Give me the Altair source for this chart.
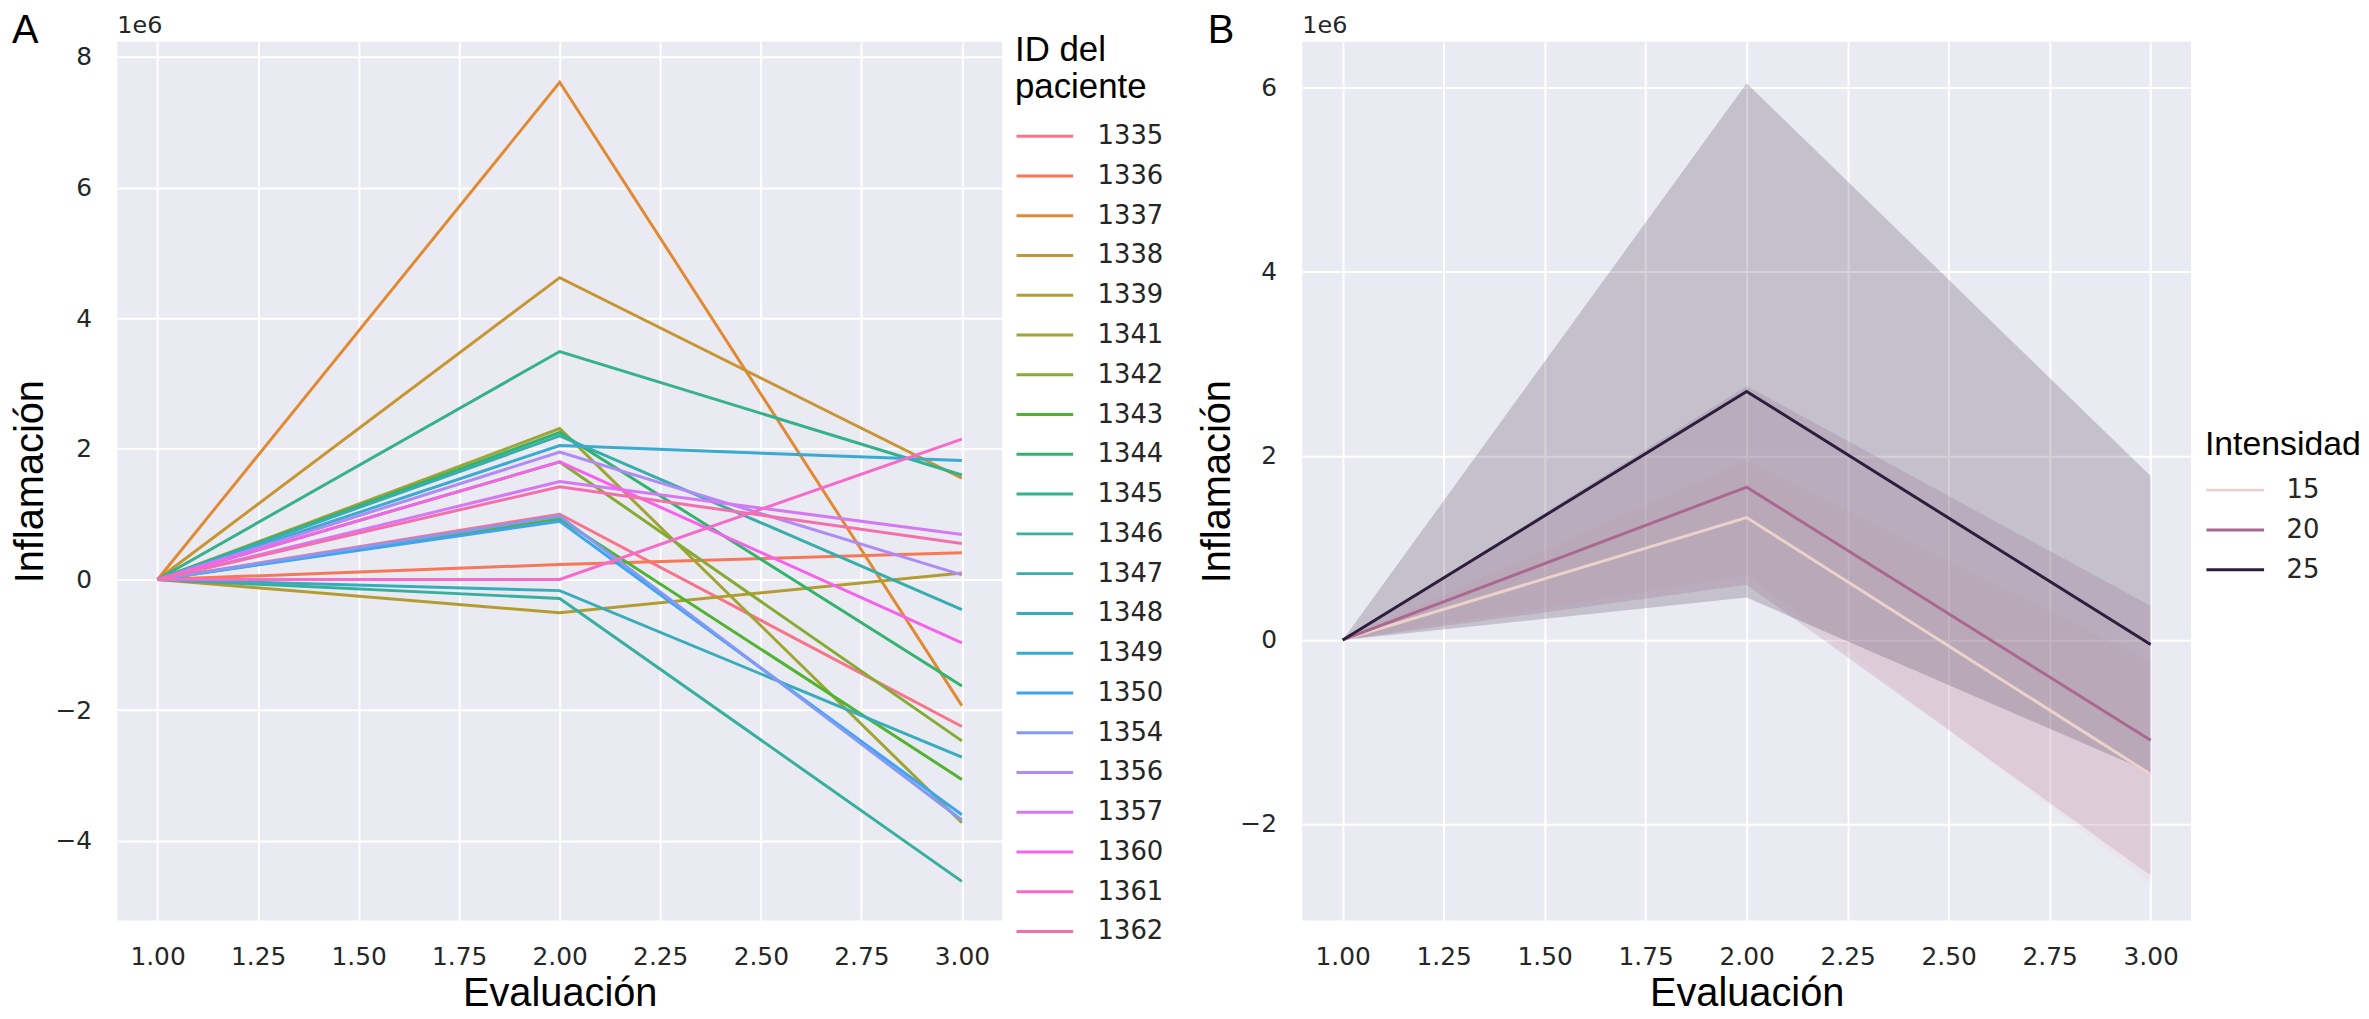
import math
import altair as alt
import pandas as pd

# ---------------- data (Inflamación in units of 1e6) ----------------
patients = ["1335", "1336", "1337", "1338", "1339", "1341", "1342", "1343", "1344", "1345",
            "1346", "1347", "1348", "1349", "1350", "1354", "1356", "1357", "1360", "1361", "1362"]
evaluacion = [1.0, 2.0, 3.0]
inflam_eval1 = [0.0, 0.0, 0.0, 0.0, 0.0, 0.0, 0.0, 0.0, 0.0, 0.0,
                0.0, 0.0, 0.0, 0.0, 0.0, 0.0, 0.0, 0.0, 0.0, 0.0, 0.0]
inflam_eval2 = [1.00, 0.23, 7.61, 4.62, -0.51, 2.31, 1.80, 0.93, 2.25, 3.49,
                -0.29, 2.20, -0.17, 2.05, 0.89, 0.97, 1.95, 1.50, 1.80, 0.00, 1.42]
inflam_eval3 = [-2.25, 0.41, -1.93, 1.55, 0.10, -3.72, -2.47, -3.06, -1.63, 1.60,
                -4.62, -0.46, -2.72, 1.82, -3.60, -3.68, 0.07, 0.69, -0.97, 2.15, 0.55]

intensidades = ["15", "20", "25"]
media = {"15": [0.0, 1.33, -1.46], "20": [0.0, 1.66, -1.09], "25": [0.0, 2.70, -0.05]}
ic_bajo = {"15": [0.0, 0.70, -2.64], "20": [0.0, 0.60, -2.56], "25": [0.0, 0.46, -1.44]}
ic_alto = {"15": [0.0, 1.95, -0.24], "20": [0.0, 2.76, 0.37], "25": [0.0, 6.05, 1.78]}

ticks_x = [1.0, 1.25, 1.5, 1.75, 2.0, 2.25, 2.5, 2.75, 3.0]
ticks_yA = [-4, -2, 0, 2, 4, 6, 8]
ticks_yB = [-2, 0, 2, 4, 6]

# ---------------- seaborn husl palette ----------------
_m = [[3.2406, -1.5372, -0.4986], [-0.9689, 1.8758, 0.0415], [0.0557, -0.2040, 1.0570]]
_refU, _refV = 0.19784, 0.46834


def _max_chroma(L, H):
    hrad = math.radians(H)
    sinH, cosH = math.sin(hrad), math.cos(hrad)
    sub1 = math.pow(L + 16, 3.0) / 1560896.0
    sub2 = sub1 if sub1 > 0.008856 else (L / 903.3)
    result = float("inf")
    for m1, m2, m3 in _m:
        top = (0.99915 * m1 + 1.05122 * m2 + 1.14460 * m3) * sub2
        rbottom = 0.86330 * m3 - 0.17266 * m2
        lbottom = 0.12949 * m3 - 0.38848 * m1
        bottom = (rbottom * sinH + lbottom * cosH) * sub2
        for t in (0.0, 1.0):
            C = L * (top - 1.05122 * t) / (bottom + 0.17266 * sinH * t)
            if 0.0 < C < result:
                result = C
    return result


def _husl_to_hex(H, S, L):
    C = _max_chroma(L, H) / 100.0 * S
    hr = math.radians(H)
    U, V = math.cos(hr) * C, math.sin(hr) * C
    t = (L + 16.0) / 116.0
    Y = t ** 3 if t ** 3 > 0.008856 else (116.0 * t - 16.0) / 903.3
    vu = U / (13.0 * L) + _refU
    vv = V / (13.0 * L) + _refV
    X = 0.0 - (9.0 * Y * vu) / ((vu - 4.0) * vv - vu * vv)
    Z = (9.0 * Y - (15.0 * vv * Y) - (vv * X)) / (3.0 * vv)
    out = []
    for row in _m:
        c = row[0] * X + row[1] * Y + row[2] * Z
        c = 12.92 * c if c <= 0.0031308 else 1.055 * math.pow(c, 1 / 2.4) - 0.055
        c = min(max(c, 0.0), 1.0)
        out.append(int(round(c * 255)))
    return "#%02x%02x%02x" % tuple(out)


n = len(patients)
colorsA = [_husl_to_hex(((k / n + 0.01) % 1) * 359, 0.9 * 99, 0.65 * 100) for k in range(n)]
colorsB = ["#edd1cb", "#aa678f", "#2d1e3e"]

# ---------------- tables ----------------
rowsA = []
for i, p in enumerate(patients):
    for j, serie in enumerate([inflam_eval1, inflam_eval2, inflam_eval3]):
        rowsA.append({"paciente": p, "Evaluación": evaluacion[j], "Inflamación": serie[i]})
dfA = pd.DataFrame(rowsA)

rowsB = []
for lvl in intensidades:
    for j in range(3):
        rowsB.append({"Intensidad": lvl, "Evaluación": evaluacion[j], "Inflamación": media[lvl][j],
                      "lo": ic_bajo[lvl][j], "hi": ic_alto[lvl][j]})
dfB = pd.DataFrame(rowsB)

TITLE_FONT = "Liberation Sans"
TICK_FONT = "DejaVu Sans"

x_axis = alt.Axis(values=ticks_x, format=".2f", title="Evaluación", labelPadding=24, titlePadding=4)


def y_axis(vals, tpad):
    return alt.Axis(values=vals, format="d", title="Inflamación", labelPadding=26, titlePadding=tpad)


def label(txt, x, y, size, font, color):
    return alt.Chart(pd.DataFrame({"t": [txt]})).mark_text(
        font=font, fontSize=size, align="left", baseline="alphabetic", color=color
    ).encode(x=alt.value(x), y=alt.value(y), text="t:N")


xscale = alt.Scale(domain=[0.9, 3.1], nice=False, zero=False)

# ---------------- panel A ----------------
linesA = alt.Chart(dfA).mark_line(strokeWidth=3).encode(
    x=alt.X("Evaluación:Q", scale=xscale, axis=x_axis),
    y=alt.Y("Inflamación:Q", scale=alt.Scale(domain=[-5.22, 8.23], nice=False, zero=False),
            axis=y_axis(ticks_yA, 4)),
    color=alt.Color("paciente:N", scale=alt.Scale(domain=patients, range=colorsA),
                    legend=alt.Legend(title=["ID del", "paciente"], orient="none", legendX=903, legendY=-9,
                                      titleFont=TITLE_FONT, titleFontSize=35, titleFontWeight="normal",
                                      titleColor="black", titleLineHeight=38, titlePadding=13,
                                      labelFont=TICK_FONT, labelFontSize=26, labelColor="#262626",
                                      symbolType="stroke", symbolSize=3249, symbolStrokeWidth=3,
                                      clipHeight=36, rowPadding=4, labelOffset=23, padding=0)),
    order=alt.Order("Evaluación:Q"),
)

panelA = alt.layer(
    linesA,
    label("A", -106, 1, 40, TITLE_FONT, "black"),
    label("1e6", 0, -9, 24, TICK_FONT, "#262626"),
).properties(width=890, height=884)

# ---------------- panel B ----------------
yscaleB = alt.Scale(domain=[-3.05, 6.50], nice=False, zero=False)
bands = []
for lvl, col in zip(intensidades, colorsB):
    bands.append(
        alt.Chart(dfB).transform_filter(alt.datum.Intensidad == lvl).mark_area(
            color=col, opacity=0.2, interpolate="linear"
        ).encode(
            x=alt.X("Evaluación:Q", scale=xscale, axis=x_axis),
            y=alt.Y("lo:Q", scale=yscaleB, axis=y_axis(ticks_yB, 2)),
            y2="hi:Q",
        )
    )

linesB = alt.Chart(dfB).mark_line(strokeWidth=3).encode(
    x=alt.X("Evaluación:Q", scale=xscale, axis=x_axis),
    y=alt.Y("Inflamación:Q", scale=yscaleB, axis=y_axis(ticks_yB, 2)),
    color=alt.Color("Intensidad:N", scale=alt.Scale(domain=intensidades, range=colorsB),
                    legend=alt.Legend(title="Intensidad", orient="none", legendX=908, legendY=389,
                                      titleFont=TITLE_FONT, titleFontSize=34, titleFontWeight="normal",
                                      titleColor="black", titlePadding=10,
                                      labelFont=TICK_FONT, labelFontSize=26, labelColor="#262626",
                                      symbolType="stroke", symbolSize=3364, symbolStrokeWidth=3,
                                      clipHeight=36, rowPadding=4, labelOffset=21, padding=0)),
    order=alt.Order("Evaluación:Q"),
)

panelB = alt.layer(
    *bands,
    linesB,
    label("B", -95, 1, 40, TITLE_FONT, "black"),
    label("1e6", 0, -9, 24, TICK_FONT, "#262626"),
).properties(width=894, height=884)

chart = alt.hconcat(panelA, panelB, spacing=34).resolve_scale(
    color="independent", x="independent", y="independent"
).configure_view(fill="#EAEAF2", stroke=None).configure_axis(
    grid=True, gridColor="white", gridWidth=2, gridOpacity=1, domain=False, ticks=False,
    labelFont=TICK_FONT, labelFontSize=25, labelColor="#262626",
    titleFont=TITLE_FONT, titleFontSize=40, titleFontWeight="normal", titleColor="black",
).properties(padding={"top": 0, "left": 3, "right": 0, "bottom": 0}, background="white")

chart.save("out.html", embed_options={"renderer": "svg", "actions": False})
